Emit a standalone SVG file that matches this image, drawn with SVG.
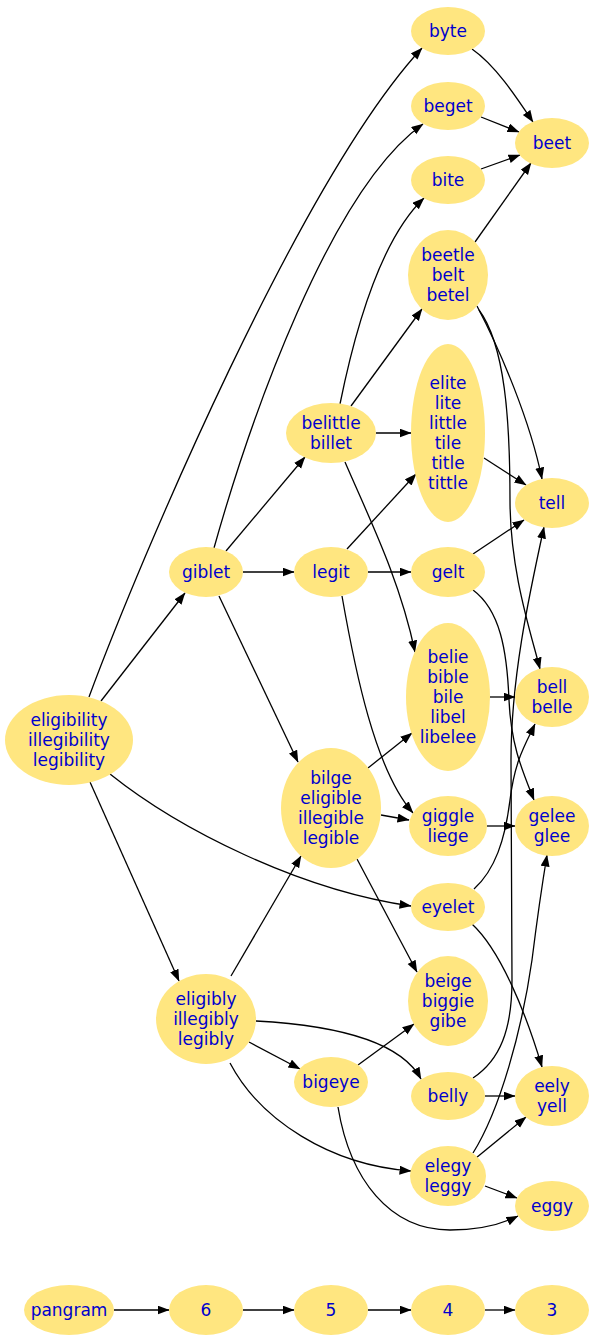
<svg xmlns="http://www.w3.org/2000/svg" width="595" height="1340" viewBox="0 0 595 1340">
<style>
.n ellipse{fill:#ffe680;stroke:none}
.n text{font-family:"DejaVu Sans","Verdana",sans-serif;font-size:17px;fill:#0000cd;text-anchor:middle;dominant-baseline:central}
.e path{fill:none;stroke:#000;stroke-width:1.3;marker-end:url(#ah)}
</style>
<defs>
<marker id="ah" markerUnits="userSpaceOnUse" markerWidth="13" markerHeight="10" refX="11.5" refY="4.5" orient="auto">
<path d="M0,0 L12,4.5 L0,9 z" fill="#000"/>
</marker>
</defs>
<rect width="595" height="1340" fill="#fff"/>
<g class="e" id="edges">
<path d="M89,697 C140,560 300,180 422,48"/>
<path d="M101,701 L185,593"/>
<path d="M90,782 L179,981"/>
<path d="M110,774 C180,830 300,890 411,906"/>
<path d="M214,548 C250,420 330,190 423,124"/>
<path d="M226,551 L305,457"/>
<path d="M243,572 L294,572"/>
<path d="M219,596 L298,762"/>
<path d="M340,404 C355,330 380,240 424,198"/>
<path d="M351,406 L422,309"/>
<path d="M376,433 L411,433"/>
<path d="M345,462 C370,520 400,580 415,652"/>
<path d="M347,549 L416,474"/>
<path d="M368,572 L411,572"/>
<path d="M342,596 C355,670 375,770 413,813"/>
<path d="M472,49 C495,65 515,95 533,122"/>
<path d="M481,117 L519,132"/>
<path d="M481,169 L520,155"/>
<path d="M475,242 L531,163"/>
<path d="M477,306 C500,350 530,420 542,479"/>
<path d="M479,310 C505,345 510,420 510,500 C510,570 530,630 540,669"/>
<path d="M484,458 L526,485"/>
<path d="M473,554 L524,520"/>
<path d="M473,590 C500,610 507,650 509,700 C511,745 522,770 534,800"/>
<path d="M490,697 L515,697"/>
<path d="M368,768 L412,733"/>
<path d="M381,815 L409,820"/>
<path d="M357,859 L417,972"/>
<path d="M487,826 L515,826"/>
<path d="M474,889 C495,870 505,840 510,800 C515,760 525,745 535,724"/>
<path d="M473,1078 C500,1060 512,1030 512,980 L511,760 C511,680 528,600 544,527"/>
<path d="M473,1153 C500,1110 522,1030 532,960 C537,920 542,885 547,855"/>
<path d="M472,924 C500,950 525,1010 542,1067"/>
<path d="M485,1096 L515,1096"/>
<path d="M476,1158 L526,1117"/>
<path d="M485,1186 L517,1198"/>
<path d="M231,976 L301,856"/>
<path d="M249,1042 L300,1069"/>
<path d="M256,1021 C330,1025 400,1040 421,1079"/>
<path d="M230,1063 C260,1120 330,1165 411,1171"/>
<path d="M358,1065 L414,1024"/>
<path d="M338,1107 C350,1180 390,1230 450,1230 C480,1230 500,1225 518,1216"/>
<path d="M114,1310 L169,1310"/>
<path d="M243,1310 L294,1310"/>
<path d="M368,1310 L411,1310"/>
<path d="M485,1310 L515,1310"/>
</g>
<g class="n" id="byte"><ellipse cx="448" cy="31" rx="37" ry="24"/><text x="448" y="31">byte</text></g>
<g class="n" id="beget"><ellipse cx="448" cy="106" rx="37" ry="24"/><text x="448" y="106">beget</text></g>
<g class="n" id="bite"><ellipse cx="448" cy="180" rx="37" ry="24"/><text x="448" y="180">bite</text></g>
<g class="n" id="beet"><ellipse cx="552" cy="143" rx="37" ry="25"/><text x="552" y="143">beet</text></g>
<g class="n" id="beetle"><ellipse cx="448" cy="275" rx="40" ry="45"/><text x="448" y="255">beetle</text><text x="448" y="275">belt</text><text x="448" y="295">betel</text></g>
<g class="n" id="elite"><ellipse cx="448" cy="433" rx="37" ry="89"/><text x="448" y="383">elite</text><text x="448" y="403">lite</text><text x="448" y="423">little</text><text x="448" y="443">tile</text><text x="448" y="463">title</text><text x="448" y="483">tittle</text></g>
<g class="n" id="tell"><ellipse cx="552" cy="503" rx="37" ry="25"/><text x="552" y="503">tell</text></g>
<g class="n" id="belittle"><ellipse cx="331" cy="433" rx="45" ry="30"/><text x="331" y="423">belittle</text><text x="331" y="443">billet</text></g>
<g class="n" id="giblet"><ellipse cx="206" cy="572" rx="37" ry="25"/><text x="206" y="572">giblet</text></g>
<g class="n" id="legit"><ellipse cx="331" cy="572" rx="37" ry="25"/><text x="331" y="572">legit</text></g>
<g class="n" id="gelt"><ellipse cx="448" cy="572" rx="37" ry="25"/><text x="448" y="572">gelt</text></g>
<g class="n" id="belie"><ellipse cx="448" cy="697" rx="42" ry="74"/><text x="448" y="657">belie</text><text x="448" y="677">bible</text><text x="448" y="697">bile</text><text x="448" y="717">libel</text><text x="448" y="737">libelee</text></g>
<g class="n" id="bell"><ellipse cx="552" cy="697" rx="37" ry="30"/><text x="552" y="687">bell</text><text x="552" y="707">belle</text></g>
<g class="n" id="eligibility"><ellipse cx="69" cy="740" rx="64" ry="45"/><text x="69" y="720">eligibility</text><text x="69" y="740">illegibility</text><text x="69" y="760">legibility</text></g>
<g class="n" id="bilge"><ellipse cx="331" cy="808" rx="50" ry="60"/><text x="331" y="778">bilge</text><text x="331" y="798">eligible</text><text x="331" y="818">illegible</text><text x="331" y="838">legible</text></g>
<g class="n" id="giggle"><ellipse cx="448" cy="826" rx="39" ry="30"/><text x="448" y="816">giggle</text><text x="448" y="836">liege</text></g>
<g class="n" id="gelee"><ellipse cx="552" cy="826" rx="37" ry="30"/><text x="552" y="816">gelee</text><text x="552" y="836">glee</text></g>
<g class="n" id="eyelet"><ellipse cx="448" cy="907" rx="37" ry="24"/><text x="448" y="907">eyelet</text></g>
<g class="n" id="eligibly"><ellipse cx="206" cy="1019" rx="50" ry="45"/><text x="206" y="999">eligibly</text><text x="206" y="1019">illegibly</text><text x="206" y="1039">legibly</text></g>
<g class="n" id="beige"><ellipse cx="448" cy="1001" rx="40" ry="45"/><text x="448" y="981">beige</text><text x="448" y="1001">biggie</text><text x="448" y="1021">gibe</text></g>
<g class="n" id="bigeye"><ellipse cx="331" cy="1082" rx="37" ry="25"/><text x="331" y="1082">bigeye</text></g>
<g class="n" id="belly"><ellipse cx="448" cy="1096" rx="37" ry="24"/><text x="448" y="1096">belly</text></g>
<g class="n" id="eely"><ellipse cx="552" cy="1096" rx="37" ry="30"/><text x="552" y="1086">eely</text><text x="552" y="1106">yell</text></g>
<g class="n" id="elegy"><ellipse cx="448" cy="1176" rx="38" ry="30"/><text x="448" y="1166">elegy</text><text x="448" y="1186">leggy</text></g>
<g class="n" id="eggy"><ellipse cx="552" cy="1206" rx="37" ry="25"/><text x="552" y="1206">eggy</text></g>
<g class="n" id="pangram"><ellipse cx="69" cy="1310" rx="45" ry="25"/><text x="69" y="1310">pangram</text></g>
<g class="n" id="n6"><ellipse cx="206" cy="1310" rx="37" ry="25"/><text x="206" y="1310">6</text></g>
<g class="n" id="n5"><ellipse cx="331" cy="1310" rx="37" ry="25"/><text x="331" y="1310">5</text></g>
<g class="n" id="n4"><ellipse cx="448" cy="1310" rx="37" ry="25"/><text x="448" y="1310">4</text></g>
<g class="n" id="n3"><ellipse cx="552" cy="1310" rx="37" ry="25"/><text x="552" y="1310">3</text></g>
</svg>
